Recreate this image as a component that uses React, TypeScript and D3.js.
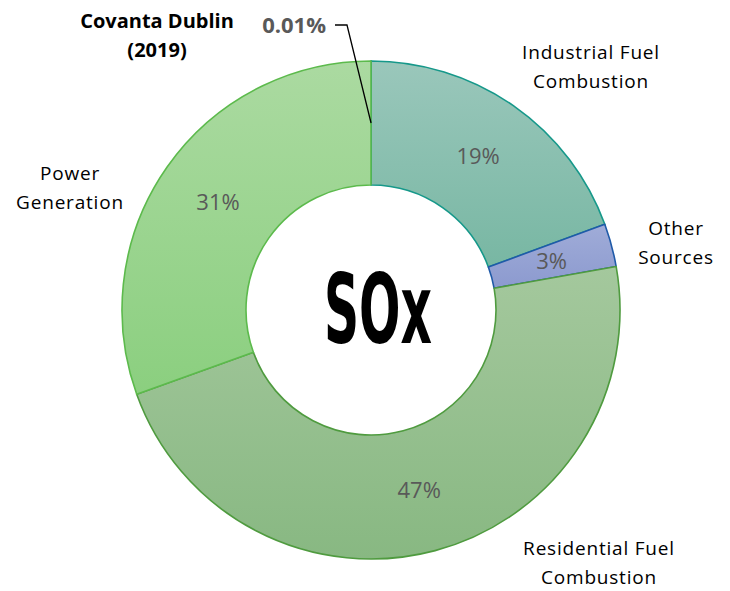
import * as d3 from "d3";
import React from "react";

const categories = [
  "Covanta Dublin (2019)",
  "Industrial Fuel Combustion",
  "Other Sources",
  "Residential Fuel Combustion",
  "Power Generation",
];
const shares = [0.01, 19.4, 2.8, 47.3, 30.5];
const shareLabels = ["0.01%", "19%", "3%", "47%", "31%"];

// label lines for the outside category names
const nameLines = [
  ["Covanta Dublin", "(2019)"],
  ["Industrial Fuel", "Combustion"],
  ["Other", "Sources"],
  ["Residential Fuel", "Combustion"],
  ["Power", "Generation"],
];

const fills = [
  ["#9ac7bb", "#78b7a3"],
  ["#9ac7bb", "#78b7a3"],
  ["#a0acd8", "#8c9acf"],
  ["#a4c89d", "#88b882"],
  ["#abdaa1", "#8bcf7f"],
];
const strokes = ["#16988a", "#16988a", "#1f5aa8", "#4f9b3f", "#5cba4c"];

const W = 730;
const H = 591;
const cx = 371;
const cy = 310;
const R = 249;
const r0 = 125;

// where the outside names sit (x, first baseline) relative to chart center
const nameOffsets: [number, number][] = [
  [-214, -282],
  [220, -251],
  [305, -75],
  [228, 245],
  [-301, -130],
];

export default function App() {
  const pie = d3
    .pie<number>()
    .value((d) => d)
    .sort(null);
  const arcs = pie(shares);
  const arc = d3.arc<d3.PieArcDatum<number>>().innerRadius(r0).outerRadius(R);

  const font = "'Open Sans', Lato, sans-serif";
  const tiny = arcs[0];
  const [tx, ty] = arc.centroid(tiny);

  return (
    <svg width={W} height={H} style={{ position: "absolute", left: 0, top: 0, background: "#fff" }}>
      <defs>
        {fills.map((f, i) => (
          <linearGradient key={i} id={`g${i}`} x1="0" y1="0" x2="0" y2="1">
            <stop offset="0%" stopColor={f[0]} />
            <stop offset="100%" stopColor={f[1]} />
          </linearGradient>
        ))}
      </defs>
      <g transform={`translate(${cx},${cy})`}>
        {arcs.map((a, i) => (
          <path
            key={i}
            d={arc(a) || ""}
            fill={`url(#g${i})`}
            stroke={strokes[i]}
            strokeWidth={1.6}
            strokeLinejoin="round"
          />
        ))}
        {arcs.slice(1).map((a, i) => {
          const [x, y] = arc.centroid(a);
          return (
            <text
              key={i}
              x={x}
              y={y}
              dy="0.35em"
              textAnchor="middle"
              fontFamily={font}
              fontSize={22}
              fill="#595959"
            >
              {shareLabels[i + 1]}
            </text>
          );
        })}
        {/* leader for the tiny slice */}
        <polyline
          points={`${tx},${ty} ${-24},${-285} ${-36},${-285}`}
          fill="none"
          stroke="#000"
          strokeWidth={1.3}
        />
        <text
          x={-45}
          y={-277}
          textAnchor="end"
          fontFamily={font}
          fontSize={22}
          fontWeight="bold"
          fill="#595959"
        >
          {shareLabels[0]}
        </text>
        {nameLines.map((lines, i) => (
          <text
            key={i}
            textAnchor="middle"
            fontFamily={font}
            fontSize={i === 0 ? 20 : 19}
            fontWeight={i === 0 ? "bold" : "normal"}
            letterSpacing={i === 0 ? 0 : 0.8}
            fill="#000"
          >
            {lines.map((l, j) => (
              <tspan key={j} x={nameOffsets[i][0]} y={nameOffsets[i][1] + j * 29}>
                {l}
              </tspan>
            ))}
          </text>
        ))}
        <text
          x={-47}
          y={33}
          textLength={108}
          lengthAdjust="spacingAndGlyphs"
          fontFamily="'DejaVu Sans Condensed', 'DejaVu Sans', sans-serif"
          fontWeight="bold"
          fontSize={97}
          fill="#000"
        >
          SOx
        </text>
      </g>
    </svg>
  );
}
